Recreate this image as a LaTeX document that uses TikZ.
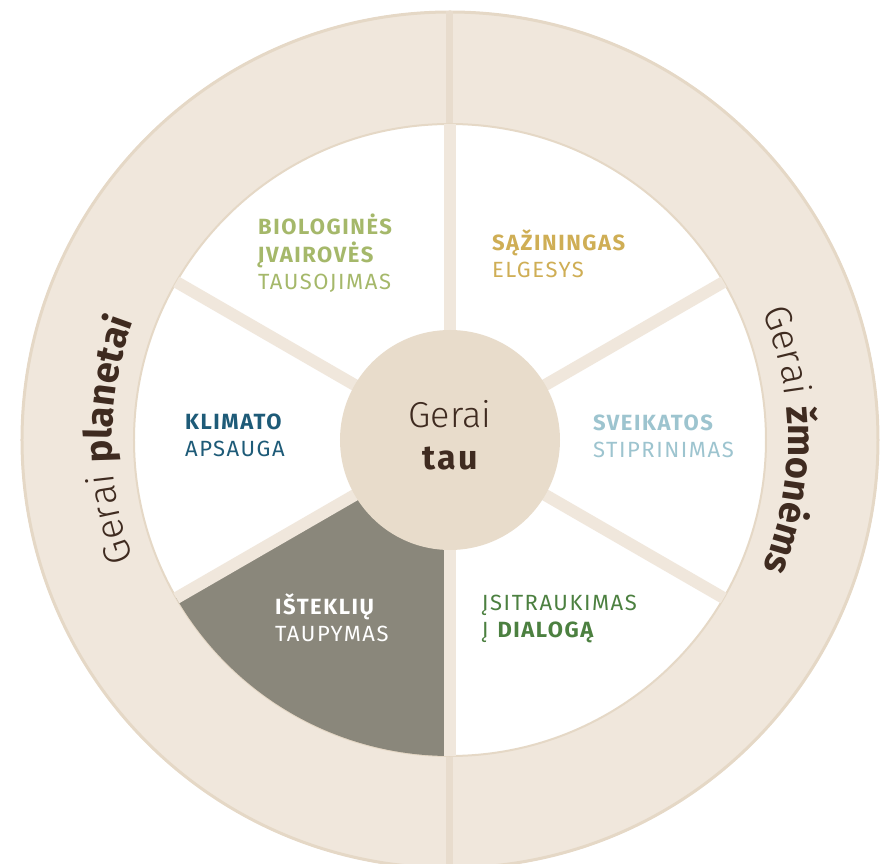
\documentclass[tikz,border=0pt]{standalone}
\usepackage{fontspec}
\setmainfont{Fira Sans}[LetterSpace=7]
\newfontfamily\lightfont{Fira Sans Light}
\usepackage{tikz}
\usetikzlibrary{decorations.text}
\definecolor{ringfill}{HTML}{F0E7DC}
\definecolor{ringedge}{HTML}{E5D8C6}
\definecolor{divider}{HTML}{E8DCCD}
\definecolor{hubfill}{HTML}{E8DCCB}
\definecolor{slate}{HTML}{8A877B}
\definecolor{tinta}{HTML}{3F2B20}
\definecolor{biogreen}{HTML}{A5B86A}
\definecolor{gold}{HTML}{CFAE55}
\definecolor{teal}{HTML}{1E5B78}
\definecolor{skyblue}{HTML}{9DC4CF}
\definecolor{leaf}{HTML}{4C8040}
\newcommand{\ringlight}{\lightfont\fontsize{38}{38}\selectfont\color{tinta}}
\newcommand{\ringbold}{\fontsize{38}{38}\selectfont\bfseries\color{tinta}}

\begin{document}
\begin{tikzpicture}[
      x=1pt, y=1pt,
      lbl/.style={anchor=base west,align=left,inner sep=0pt,font=\fontsize{22}{27.5}\selectfont},
      spoke/.style={draw=ringfill,line width=12pt},
      ringtext/.style={decorate,decoration={text along path,text align=center,text={#1}}},
    ]
  \useasboundingbox (-450,-424) rectangle (431,440);

  % outer ring and inner white disk
  \fill[ringfill] (0,0) circle[radius=429];
  \draw[ringedge,line width=3pt] (0,0) circle[radius=428];
  \draw[divider,line width=7pt] (0,429) -- (0,-429);
  \fill[white] (0,0) circle[radius=316];
  \draw[ringedge,line width=2pt] (0,0) circle[radius=316];
  \fill[slate] (0,0) -- (210:316) arc[start angle=210,end angle=270,radius=316] -- cycle;

  % spokes between the six sectors
  \foreach \a in {30,90,...,330}
    \draw[spoke] (0,0) -- (\a:316);

  \node[circle,fill=hubfill,minimum size=220pt,inner sep=0pt] (hub) at (0,0) {};
  \node[anchor=base,inner sep=0pt,text=tinta,font=\lightfont\fontsize{36}{36}\selectfont] (hubtop) at (0,12) {Gerai};
  \node[anchor=base,inner sep=0pt,text=tinta,font=\fontsize{34}{34}\selectfont\bfseries] (hubbot) at (0,-30) {tau};

  % sector labels (base = last line)
  \node[lbl,text=biogreen] (bio) at (-192,150) {\textbf{BIOLOGINĖS}\\\textbf{ĮVAIROVĖS}\\TAUSOJIMAS};
  \node[lbl,text=gold] (saz) at (42,162) {\textbf{SĄŽININGAS}\\ELGESYS};
  \node[lbl,text=teal] (klim) at (-265,-17) {\textbf{KLIMATO}\\APSAUGA};
  \node[lbl,text=skyblue] (sveik) at (143,-18) {\textbf{SVEIKATOS}\\STIPRINIMAS};
  \node[lbl,text=white] (istek) at (-175,-202) {\textbf{IŠTEKLIŲ}\\TAUPYMAS};
  \node[lbl,text=leaf] (isitr) at (32,-198) {ĮSITRAUKIMAS\\Į \textbf{DIALOGĄ}};

  % curved ring titles
  \path[ringtext={|\ringlight|Gerai |\ringbold|planetai}]
    (230:338) arc[start angle=230,end angle=130,radius=338];
  \path[ringtext={|\ringlight|Gerai |\ringbold|žmonėms}]
    (50:338) arc[start angle=50,end angle=-50,radius=338];
\end{tikzpicture}
\end{document}
